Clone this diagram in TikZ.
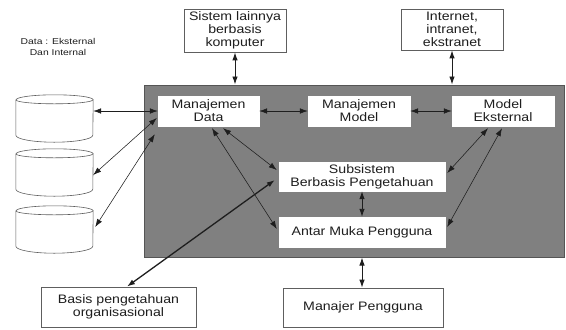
\documentclass[tikz,border=0pt]{standalone}
\usepackage{fontspec}
\setmainfont{Liberation Sans}[FakeStretch=1.15]
\newfontfamily\notefont{Liberation Sans}[FakeStretch=1.22]
\usetikzlibrary{arrows.meta,calc}

\definecolor{panelgray}{HTML}{808080}
\definecolor{panelline}{HTML}{555555}
\definecolor{boxline}{HTML}{5E5E5E}
\definecolor{ink}{HTML}{1E1E1E}

\tikzset{
  boxtext/.style={font=\fontsize{12.3bp}{13bp}\selectfont, text=ink, align=center, inner sep=0pt},
  innerbox/.style={boxtext, fill=white, draw=white, line width=0.4bp},
  outerbox/.style={boxtext, fill=white, draw=boxline, line width=0.8bp},
  cylbox/.style={inner sep=0pt, minimum width=77bp, minimum height=47bp},
  link/.style={{Latex[length=8bp,width=5.5bp]}-{Latex[length=8bp,width=5.5bp]}, line width=0.55bp, draw=ink},
  boldlink/.style={link, line width=1.3bp},
  midlink/.style={link, line width=0.9bp}
}

\begin{document}
\begin{tikzpicture}[x=1bp, y=-1bp]
  \useasboundingbox (0,0) rectangle (566,329);

  % processing core
  \node[draw=panelline, fill=panelgray, line width=1bp, inner sep=0pt,
        minimum width=420bp, minimum height=172bp] (core) at (354,171) {};

  % boxes inside the core
  \node[innerbox, minimum width=101bp, minimum height=30bp] (md)  at (208.5,111) {Manajemen\\Data};
  \node[innerbox, minimum width=102bp, minimum height=30bp] (mm)  at (359,111)   {Manajemen\\Model};
  \node[innerbox, minimum width=102bp, minimum height=30bp] (me)  at (503,111)   {Model\\Eksternal};
  \node[innerbox, minimum width=166bp, minimum height=29bp] (sub) at (362,176.5) {Subsistem\\Berbasis Pengetahuan};
  \node[innerbox, minimum width=166bp, minimum height=30bp] (amp) at (362,232)   {Antar Muka Pengguna};

  % boxes outside the core
  \node[outerbox, minimum width=102bp, minimum height=43bp] (sis)   at (235,30.5)  {Sistem lainnya\\berbasis\\komputer};
  \node[outerbox, minimum width=102bp, minimum height=41bp] (inet)  at (452,29.5)  {Internet,\\intranet,\\ekstranet};
  \node[outerbox, minimum width=155bp, minimum height=40bp] (basis) at (118.5,307) {Basis pengetahuan\\organisasional};
  \node[outerbox, minimum width=160bp, minimum height=39bp] (mp)    at (363,307.5) {Manajer Pengguna};

  % data label
  \node[font=\notefont\fontsize{8.5bp}{10.5bp}\selectfont, text=ink, align=center, inner sep=0pt]
    (lbl) at (58,47) {Data : Eksternal\\Dan Internal};

  % data stores
  \node[cylbox] (c1) at (54.5,118.5) {};
  \node[cylbox] (c2) at (54.5,172.5) {};
  \node[cylbox] (c3) at (54.5,229.5) {};
  \foreach \c in {c1,c2,c3}{
    \filldraw[fill=white, draw=boxline, line width=0.6bp]
      ($(\c.north west)+(0,5)$) -- ($(\c.south west)+(0,-7)$)
      arc[start angle=180, end angle=360, x radius=38.5bp, y radius=7bp]
      -- ($(\c.north east)+(0,5)$)
      arc[start angle=0, end angle=180, x radius=38.5bp, y radius=5bp] -- cycle;
    \draw[draw=boxline, line width=0.6bp]
      ($(\c.north west)+(0,5)$) arc[start angle=180, end angle=360, x radius=38.5bp, y radius=4bp];
  }

  % connectors
  \draw[link] (c1.east |- md.west) -- (md.west);
  \draw[link] ($(c2.east)+(0,2.5)$) -- ($(md.west)+(-1,7)$);
  \coordinate (mdlow) at ($(md.south west)+(-3,8)$);
  \draw[link] ($(c3.east)+(2,-2.5)$) -- (mdlow);

  \draw[link] (md.east) -- (mm.west);
  \draw[link] (mm.east) -- (me.west);

  \draw[midlink] (sis.south) -- (sis.south |- core.north);
  \draw[midlink] (inet.south) -- (inet.south |- core.north);

  \draw[link] ($(md.south)+(14.5,2)$) -- ($(sub.west)+(-2,-6.5)$);
  \draw[link] ($(md.south)+(3.5,2)$) -- ($(amp.west)+(-2,-3)$);
  \draw[link] ($(me.south)+(-15,2)$) -- ($(sub.east)+(2,-3.5)$);
  \draw[link] ($(me.south)+(-1,2)$) -- ($(amp.east)+(2,-5)$);

  \draw[midlink] (sub.south) -- (amp.north);
  \draw[midlink] (amp.south |- core.south) -- (amp.south |- mp.north);

  \draw[boldlink] ($(basis.north)+(8.5,0)$) -- ($(sub.west)+(-4,3.5)$);
\end{tikzpicture}
\end{document}
